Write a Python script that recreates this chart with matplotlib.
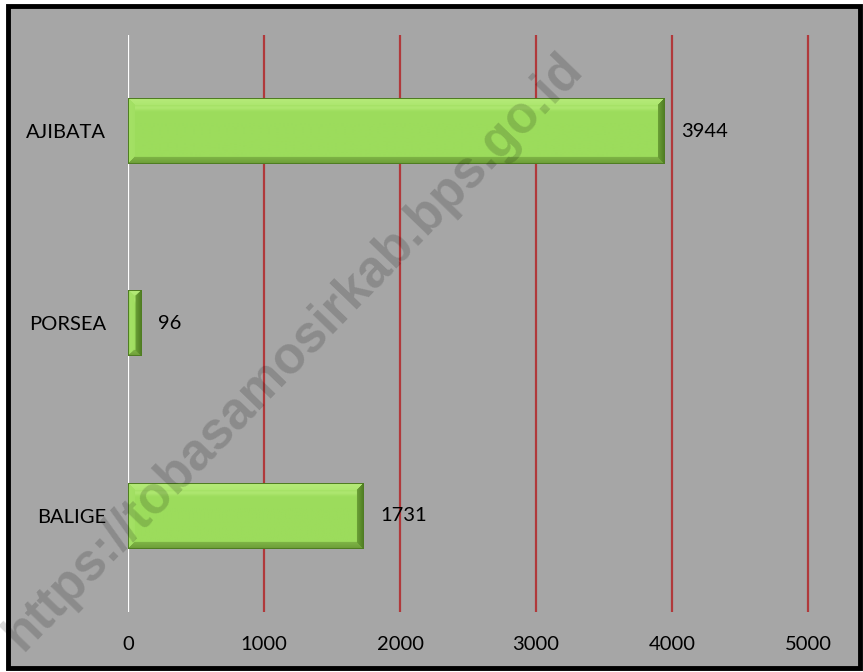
import matplotlib.pyplot as plt
import numpy as np
from matplotlib.patches import Rectangle
from matplotlib.colors import to_rgb

categories = ['BALIGE', 'PORSEA', 'AJIBATA']
values = [1731, 96, 3944]
xticks = [0, 1000, 2000, 3000, 4000, 5000]

BG = '#a6a6a6'
GRID_RED = '#b0393b'
FONT = 'Lato'

W, H = 863, 672
fig = plt.figure(figsize=(W / 100, H / 100), dpi=100, facecolor='white')

# grey panel with black frame, behind the axes
fig.patches.append(Rectangle((8 / W, 4 / H), 852 / W, 662 / H, transform=fig.transFigure,
                             facecolor=BG, edgecolor='black', linewidth=3.5, zorder=-5))

ax = fig.add_axes([128 / W, 60 / H, 684 / W, 577 / H])
ax.set_facecolor('none')
for s in ax.spines.values():
    s.set_visible(False)

for t in xticks:
    ax.axvline(t, color='white' if t == 0 else GRID_RED, lw=1.6, zorder=1)

ax.set_xlim(0, 5000 * 684 / 680)
ax.set_ylim(-0.5, 2.5)
ax.set_xticks(xticks)
ax.set_xticklabels([str(t) for t in xticks], fontsize=14.5, family=FONT)
ax.tick_params(axis='x', length=0, pad=17)
ax.set_yticks(range(len(categories)))
ax.set_yticklabels(categories, fontsize=14.5, family=FONT)
ax.tick_params(axis='y', length=0, pad=16)

bar_h = 0.34
fig.canvas.draw()


def bevel_image(w_px, h_px, bev=7):
    base = np.array(to_rgb('#9cdc5c'))
    light = np.array(to_rgb('#c8f68e'))
    dark = np.array(to_rgb('#4f7d22'))
    bot = np.array(to_rgb('#6d9d38'))
    w_px = max(int(w_px), 2)
    h_px = max(int(h_px), 2)
    yy, xx = np.mgrid[0:h_px, 0:w_px]
    img = np.tile(base, (h_px, w_px, 1))
    # soft light band just under the top bevel
    band = np.exp(-((yy - bev - 2) / 2.5) ** 2)[..., None] * 0.4
    img = img * (1 - band) + light * band
    b = min(bev, w_px // 2, h_px // 2)
    d_top, d_bot = yy, h_px - 1 - yy
    d_left, d_right = xx, w_px - 1 - xx
    dmin = np.minimum(np.minimum(d_top, d_bot), np.minimum(d_left, d_right))
    inside = dmin < b
    frac = np.clip(dmin / max(b, 1), 0, 1)[..., None]
    edge_col = np.zeros_like(img)
    edge_col[d_top == dmin] = light * 0.6 + base * 0.4
    edge_col[d_left == dmin] = base * 0.8 + light * 0.2
    edge_col[d_bot == dmin] = bot
    edge_col[d_right == dmin] = dark
    mix = edge_col * (1 - 0.4 * frac) + base * 0.4 * frac
    img[inside] = mix[inside]
    # outline
    img[0, :] = img[-1, :] = dark
    img[:, 0] = img[:, -1] = dark
    return img


for i, v in enumerate(values):
    p0 = ax.transData.transform((0, i - bar_h / 2))
    p1 = ax.transData.transform((v, i + bar_h / 2))
    img = bevel_image(p1[0] - p0[0], p1[1] - p0[1])
    ax.imshow(img, extent=(0, v, i - bar_h / 2, i + bar_h / 2), aspect='auto',
              origin='upper', zorder=3, interpolation='bilinear')
    ax.annotate(str(v), (v, i), xytext=(12, 0), textcoords='offset points',
                va='center', ha='left', fontsize=14.5, family=FONT, zorder=4)

ax.set_xlim(0, 5000 * 684 / 680)
ax.set_ylim(-0.5, 2.5)

fig.text(294 / W, 1 - 352 / H, 'https://tobasamosirkab.bps.go.id', rotation=46,
         ha='center', va='center', fontsize=37, fontweight='bold',
         family='Liberation Sans', color='black', alpha=0.16, zorder=10)

fig.savefig('out.png', dpi=100, facecolor='white')
